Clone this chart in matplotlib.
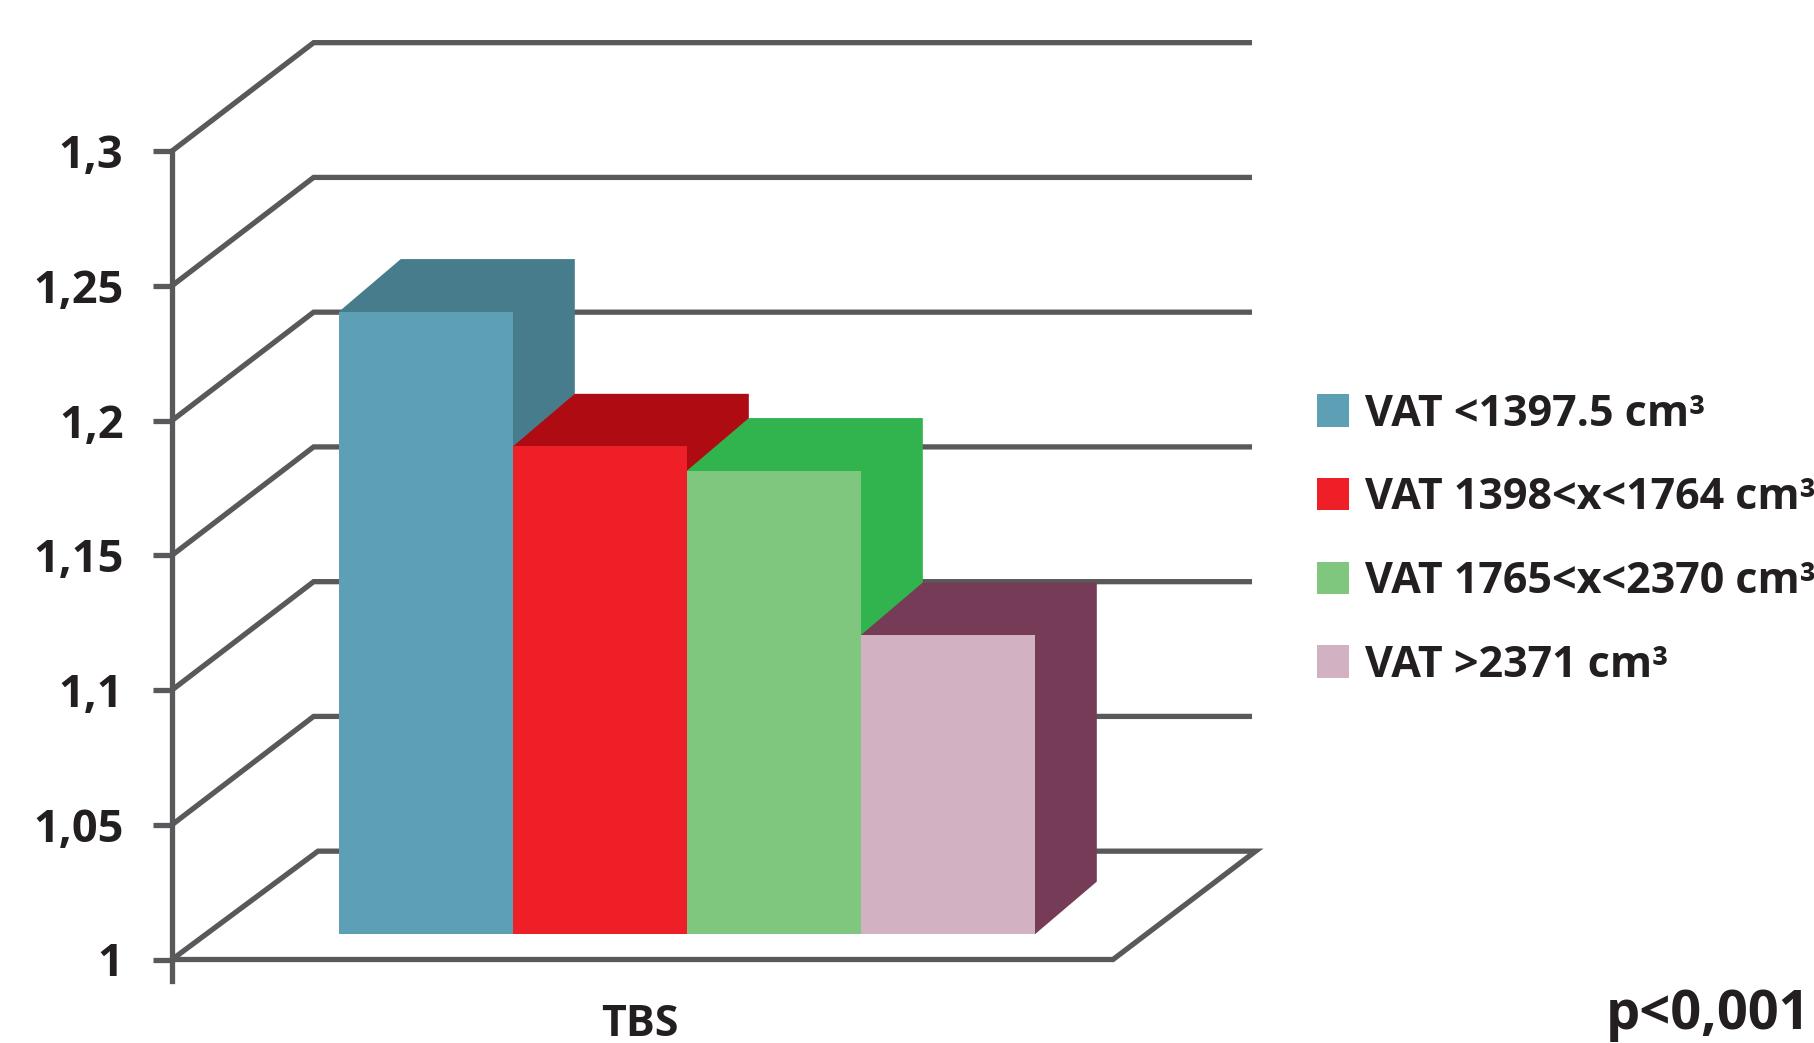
"""
plot.py

Pseudo-3D column chart of mean TBS by visceral fat (VAT) group.
"""

import matplotlib

matplotlib.use("Agg")

import matplotlib.pyplot as plt
from matplotlib.patches import Patch

GROUP_LABELS = [
    "VAT <1397.5 cm³",
    "VAT 1398<x<1764 cm³",
    "VAT 1765<x<2370 cm³",
    "VAT >2371 cm³",
]
TBS_VALUES = [1.231, 1.181, 1.172, 1.111]
Y_TICKS = [1, 1.05, 1.1, 1.15, 1.2, 1.25, 1.3]
Y_TICK_LABELS = ["1", "1,05", "1,1", "1,15", "1,2", "1,25", "1,3"]
CATEGORY_LABEL = "TBS"
P_VALUE_LABEL = "p<0,001"

FRONT_COLORS = ["#5D9FB4", "#EE1F26", "#7FC67E", "#D2B1C2"]
SHADE_COLORS = ["#477C8D", "#AF0B12", "#31B34D", "#763C57"]
LINE_COLOR = "#58595B"
TEXT_COLOR = "#231F20"

FIG_W, FIG_H = 1815, 1043
DPI = 100

# plot box in pixels, measured from the top left corner
BOX_LEFT, BOX_RIGHT, BOX_TOP, BOX_BOTTOM = 172, 1113, 151, 959.5

X_MIN, X_MAX = -1.46, 3.948
Y_MIN, Y_MAX = 1.0, 1.3

# oblique projection offsets, in data units
FLOOR_DX, FLOOR_DY = 0.839, 0.0402
WALL_DX = 0.814
BAR_DX, BAR_DY = 0.355, 0.0195
BAR_LIFT = 0.0094
WALL_RIGHT = 4.747
FLOOR_BACK_RIGHT = 4.768

LINE_WIDTH = 3.8


def draw_walls(a_axis):
    """Draw the slanted gridlines and the floor outline."""
    for tick in Y_TICKS[1:]:
        a_axis.plot(
            [X_MIN, X_MIN + WALL_DX, WALL_RIGHT],
            [tick, tick + FLOOR_DY, tick + FLOOR_DY],
            color=LINE_COLOR,
            linewidth=LINE_WIDTH,
            solid_joinstyle="miter",
            solid_capstyle="butt",
            clip_on=False,
            zorder=1,
        )
    a_axis.plot(
        [X_MIN, X_MIN + FLOOR_DX, FLOOR_BACK_RIGHT, X_MAX, X_MIN],
        [Y_MIN, Y_MIN + FLOOR_DY, Y_MIN + FLOOR_DY, Y_MIN, Y_MIN],
        color=LINE_COLOR,
        linewidth=LINE_WIDTH,
        solid_joinstyle="miter",
        solid_capstyle="butt",
        clip_on=False,
        zorder=1,
    )


def draw_bar(a_axis, a_x, a_value, a_front, a_shade, a_zorder):
    """Draw one column: top and side as one shape, the front over them."""
    left, right = a_x - 0.5, a_x + 0.5
    bottom, top = Y_MIN + BAR_LIFT, a_value + BAR_LIFT
    a_axis.fill(
        [left, left + BAR_DX, right + BAR_DX, right + BAR_DX, right],
        [top, top + BAR_DY, top + BAR_DY, bottom + BAR_DY, bottom],
        color=a_shade,
        linewidth=0,
        clip_on=False,
        zorder=a_zorder,
    )
    a_axis.bar(
        a_x,
        a_value - Y_MIN,
        width=1.0,
        bottom=bottom,
        color=a_front,
        linewidth=0,
        clip_on=False,
        zorder=a_zorder + 0.5,
    )


def main():
    plt.rcParams["font.family"] = ["Open Sans", "DejaVu Sans"]
    plt.rcParams["font.weight"] = "bold"

    figure = plt.figure(figsize=(FIG_W / DPI, FIG_H / DPI), dpi=DPI)
    axis = figure.add_axes(
        [
            BOX_LEFT / FIG_W,
            1 - BOX_BOTTOM / FIG_H,
            (BOX_RIGHT - BOX_LEFT) / FIG_W,
            (BOX_BOTTOM - BOX_TOP) / FIG_H,
        ]
    )
    axis.patch.set_visible(False)

    draw_walls(axis)
    for index, value in enumerate(TBS_VALUES):
        draw_bar(axis, index, value, FRONT_COLORS[index], SHADE_COLORS[index], 2 + index)

    axis.set_xlim(X_MIN, X_MAX)
    axis.set_ylim(Y_MIN, Y_MAX)

    axis.set_yticks(Y_TICKS, Y_TICK_LABELS)
    axis.tick_params(
        axis="y", length=14, width=LINE_WIDTH, color=LINE_COLOR, pad=21,
        labelsize=32.5, labelcolor=TEXT_COLOR,
    )
    axis.set_xticks([(X_MIN + X_MAX) / 2 - 0.015], [CATEGORY_LABEL])
    axis.tick_params(axis="x", length=0, pad=31, labelsize=31, labelcolor=TEXT_COLOR)

    for name in ("top", "right", "bottom"):
        axis.spines[name].set_visible(False)
    axis.spines["left"].set_color(LINE_COLOR)
    axis.spines["left"].set_linewidth(LINE_WIDTH)
    axis.spines["left"].set_bounds(Y_MIN - 0.008, Y_MAX)

    handles = [Patch(facecolor=color, linewidth=0) for color in FRONT_COLORS]
    legend = axis.legend(
        handles,
        GROUP_LABELS,
        loc="upper left",
        bbox_to_anchor=(1280 / FIG_W, 1 - 356 / FIG_H),
        bbox_transform=figure.transFigure,
        frameon=False,
        fontsize=31,
        labelcolor=TEXT_COLOR,
        handlelength=0.76,
        handleheight=0.78,
        handletextpad=0.36,
        labelspacing=0.945,
        borderpad=0.35,
    )
    legend.set_zorder(10)

    figure.text(
        1810 / FIG_W,
        1 - 1029 / FIG_H,
        P_VALUE_LABEL,
        ha="right",
        va="baseline",
        fontsize=39,
        color=TEXT_COLOR,
    )

    figure.savefig("out.png", dpi=DPI, facecolor="white")
    plt.close(figure)


if __name__ == "__main__":
    main()
